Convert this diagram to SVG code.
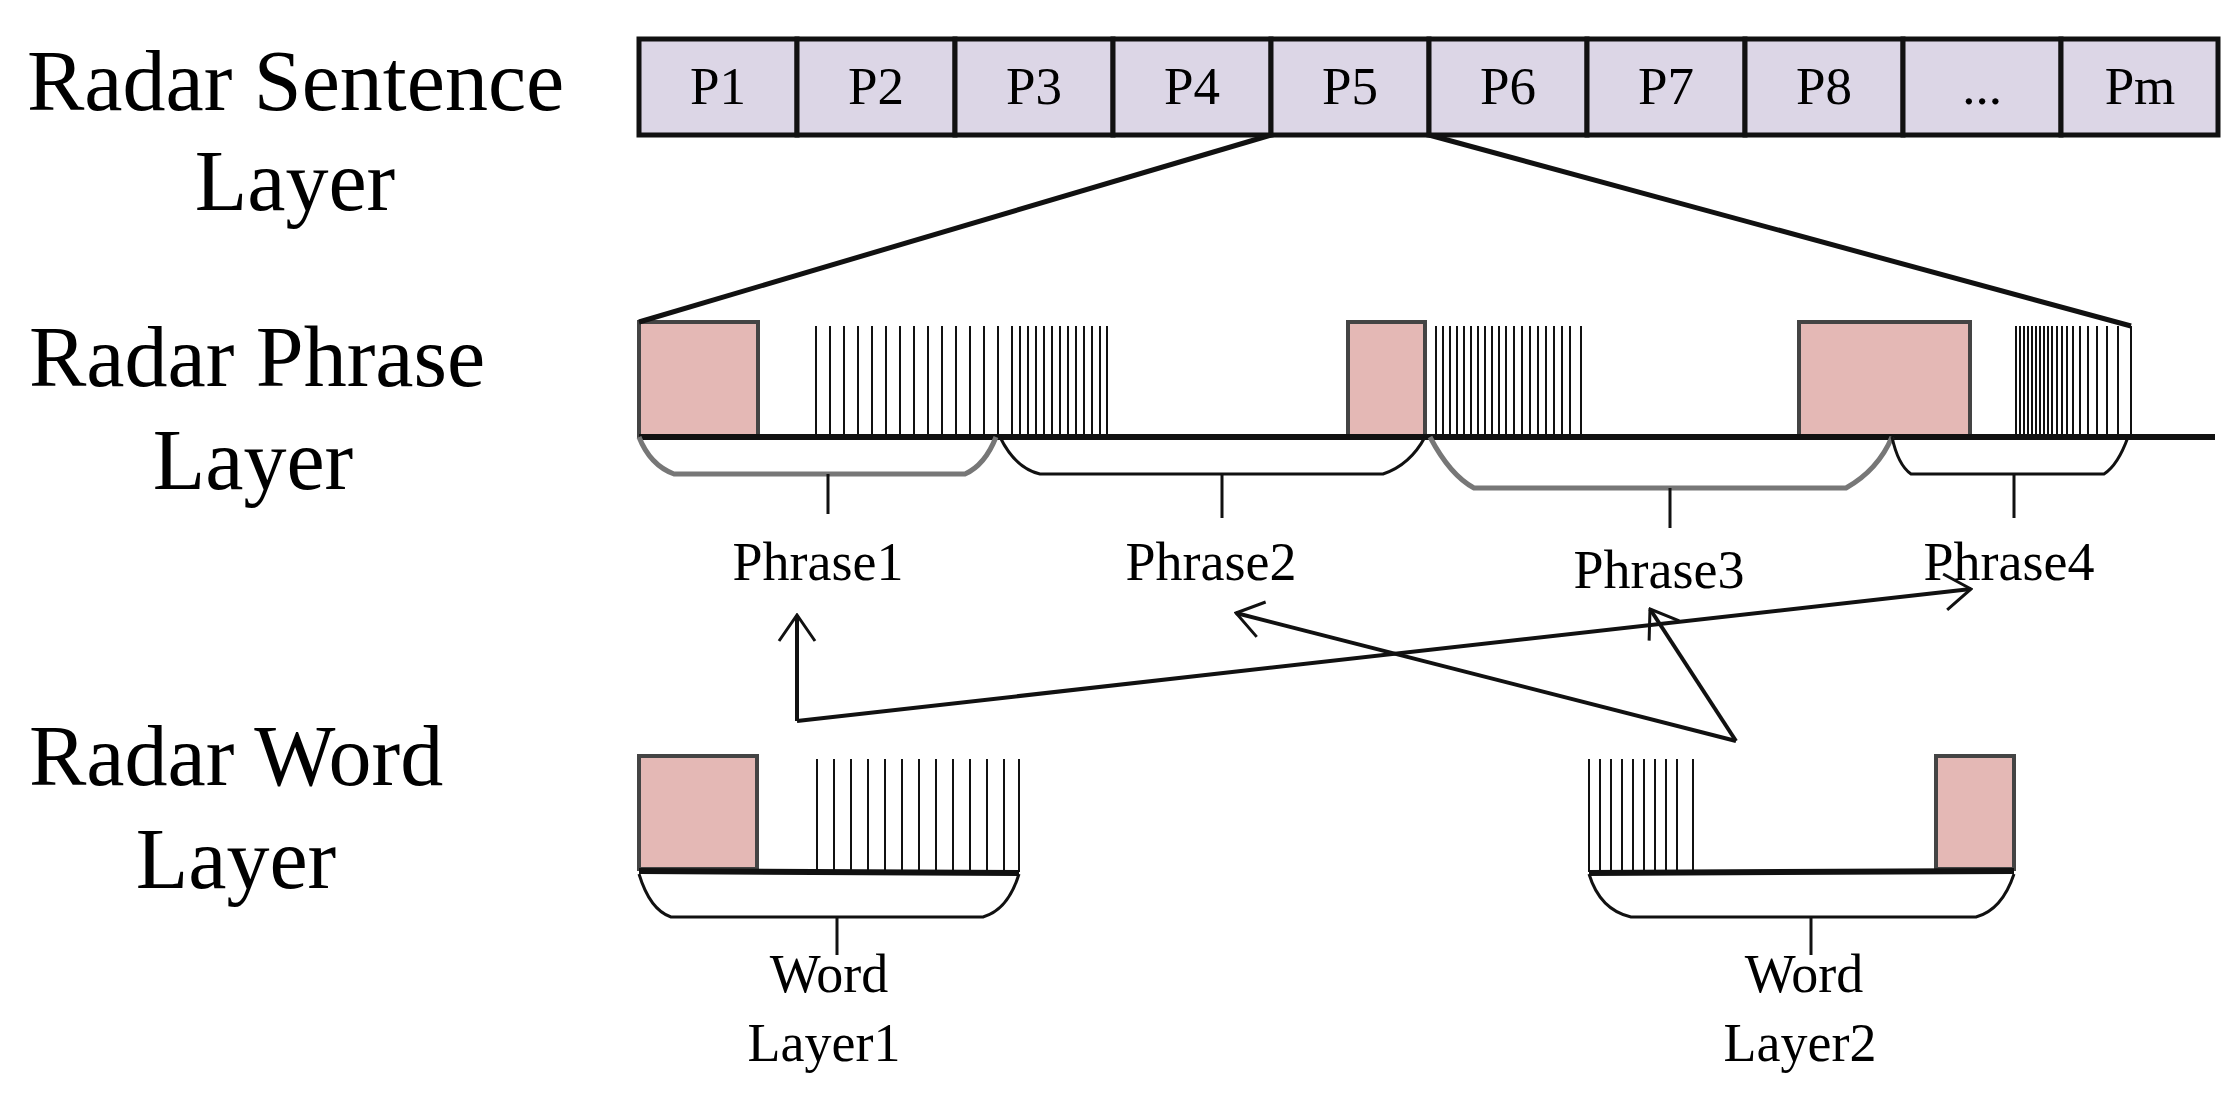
<svg xmlns="http://www.w3.org/2000/svg" width="2239" height="1096" viewBox="0 0 2239 1096">
<style>
text{font-family:"Liberation Serif","DejaVu Serif",serif;fill:#000}
.big{font-size:86px}
.p{font-size:53px;text-anchor:middle}
.lab{font-size:54px;text-anchor:middle}
.cell{fill:#dcd6e6;stroke:#111;stroke-width:5}
.pink{fill:#e4b8b5;stroke:#444;stroke-width:4}
.pulse{stroke:#111;stroke-width:2}
.br{fill:none;stroke:#111;stroke-width:3}
.brg{fill:none;stroke:#777;stroke-width:5}
.base{stroke:#111;stroke-width:6}
.arr{fill:none;stroke:#111;stroke-width:4}
</style>
<defs>
<marker id="ah" viewBox="0 0 30 40" refX="28" refY="20" markerWidth="30" markerHeight="40" markerUnits="userSpaceOnUse" orient="auto">
<path d="M2,2 L28,20 L2,38" fill="none" stroke="#111" stroke-width="3"/>
</marker>
</defs>
<g id="layer-labels">
<text class="big" x="27" y="110">Radar Sentence</text>
<text class="big" x="295" y="210" text-anchor="middle">Layer</text>
<text class="big" x="29" y="386">Radar Phrase</text>
<text class="big" x="253" y="489" text-anchor="middle">Layer</text>
<text class="big" x="29" y="785">Radar Word</text>
<text class="big" x="236" y="888" text-anchor="middle">Layer</text>
</g>
<g id="sentence">
<rect class="cell" x="639" y="39" width="158" height="96"/><text class="p" x="718" y="104">P1</text>
<rect class="cell" x="797" y="39" width="158" height="96"/><text class="p" x="876" y="104">P2</text>
<rect class="cell" x="955" y="39" width="158" height="96"/><text class="p" x="1034" y="104">P3</text>
<rect class="cell" x="1113" y="39" width="158" height="96"/><text class="p" x="1192" y="104">P4</text>
<rect class="cell" x="1271" y="39" width="158" height="96"/><text class="p" x="1350" y="104">P5</text>
<rect class="cell" x="1429" y="39" width="158" height="96"/><text class="p" x="1508" y="104">P6</text>
<rect class="cell" x="1587" y="39" width="158" height="96"/><text class="p" x="1666" y="104">P7</text>
<rect class="cell" x="1745" y="39" width="158" height="96"/><text class="p" x="1824" y="104">P8</text>
<rect class="cell" x="1903" y="39" width="158" height="96"/><text class="p" x="1982" y="104">...</text>
<rect class="cell" x="2061" y="39" width="157" height="96"/><text class="p" x="2140" y="104">Pm</text>
</g>
<g id="phrase-layer">
<rect class="pink" x="639" y="322" width="119" height="115"/>
<rect class="pink" x="1348" y="322" width="77" height="115"/>
<rect class="pink" x="1799" y="322" width="171" height="115"/>
<g class="pulse">
<path d="M816 326V437M830 326V437M844 326V437M858 326V437M872 326V437M886 326V437M900 326V437M914 326V437M928 326V437M942 326V437M956 326V437M970 326V437M984 326V437M998 326V437M1012 326V437M1020 326V437M1028 326V437M1036 326V437M1044 326V437M1052 326V437M1060 326V437M1068 326V437M1076 326V437M1084 326V437M1092 326V437M1100 326V437M1107 326V437"/>
<path d="M1436 326V437M1443 326V437M1450 326V437M1457 326V437M1464 326V437M1471 326V437M1478 326V437M1485 326V437M1492 326V437M1499 326V437M1506 326V437M1514 326V437M1522 326V437M1530 326V437M1538 326V437M1546 326V437M1554 326V437M1562 326V437M1570 326V437M1581 326V437"/>
<path d="M2016 326V437M2020 326V437M2024 326V437M2028 326V437M2032 326V437M2036 326V437M2040 326V437M2044 326V437M2048 326V437M2052 326V437M2057 326V437M2062 326V437M2067 326V437M2073 326V437M2080 326V437M2088 326V437M2097 326V437M2107 326V437M2118 326V437M2131 326V437"/>
</g>
<line class="base" x1="639" y1="437" x2="2215" y2="437"/>
<path class="brg" d="M639 437Q650 465 674 474H965Q985 465 996 437"/>
<path class="br" d="M1000 437Q1015 468 1040 474H1383Q1410 465 1425 437"/>
<path class="brg" d="M1430 437Q1450 475 1474 488H1846Q1878 470 1892 437"/>
<path class="br" d="M1892 437Q1898 465 1911 474H2104Q2118 465 2128 437"/>
<path class="br" d="M828 474V514M1222 474V518M1670 488V528M2014 474V518"/>
<text class="lab" x="818" y="580">Phrase1</text>
<text class="lab" x="1211" y="580">Phrase2</text>
<text class="lab" x="1659" y="588">Phrase3</text>
<text class="lab" x="2009" y="580">Phrase4</text>
</g>
<g id="word1">
<rect class="pink" x="639" y="756" width="118" height="113"/>
<path class="pulse" d="M817 759V872M834 759V872M851 759V872M868 759V872M885 759V872M902 759V872M919 759V872M936 759V872M953 759V872M970 759V872M987 759V872M1004 759V872M1019 759V872"/>
<line class="base" x1="639" y1="871" x2="1019" y2="873"/>
<path class="br" d="M639 874Q650 910 671 917H983Q1008 910 1019 874"/>
<path class="br" d="M837 917V955"/>
<text class="lab" x="829" y="992">Word</text>
<text class="lab" x="824" y="1061">Layer1</text>
</g>
<g id="word2">
<rect class="pink" x="1936" y="756" width="78" height="113"/>
<path class="pulse" d="M1589 759V872M1600 759V872M1611 759V872M1622 759V872M1633 759V872M1644 759V872M1655 759V872M1666 759V872M1677 759V872M1693 759V872"/>
<line class="base" x1="1589" y1="873" x2="2014" y2="871"/>
<path class="br" d="M1589 874Q1600 910 1631 917H1976Q2002 910 2014 874"/>
<path class="br" d="M1811 917V955"/>
<text class="lab" x="1804" y="992">Word</text>
<text class="lab" x="1800" y="1061">Layer2</text>
</g>
<g id="connectors">
<line x1="1271" y1="135" x2="639" y2="322" stroke="#111" stroke-width="5"/>
<line x1="1429" y1="135" x2="2131" y2="326" stroke="#111" stroke-width="5"/>
<path class="arr" d="M797 721V615" marker-end="url(#ah)"/>
<path class="arr" d="M797 721L1971 589" marker-end="url(#ah)"/>
<path class="arr" d="M1736 741L1236 613" marker-end="url(#ah)"/>
<path class="arr" d="M1736 741L1650 609" marker-end="url(#ah)"/>
</g>
</svg>
